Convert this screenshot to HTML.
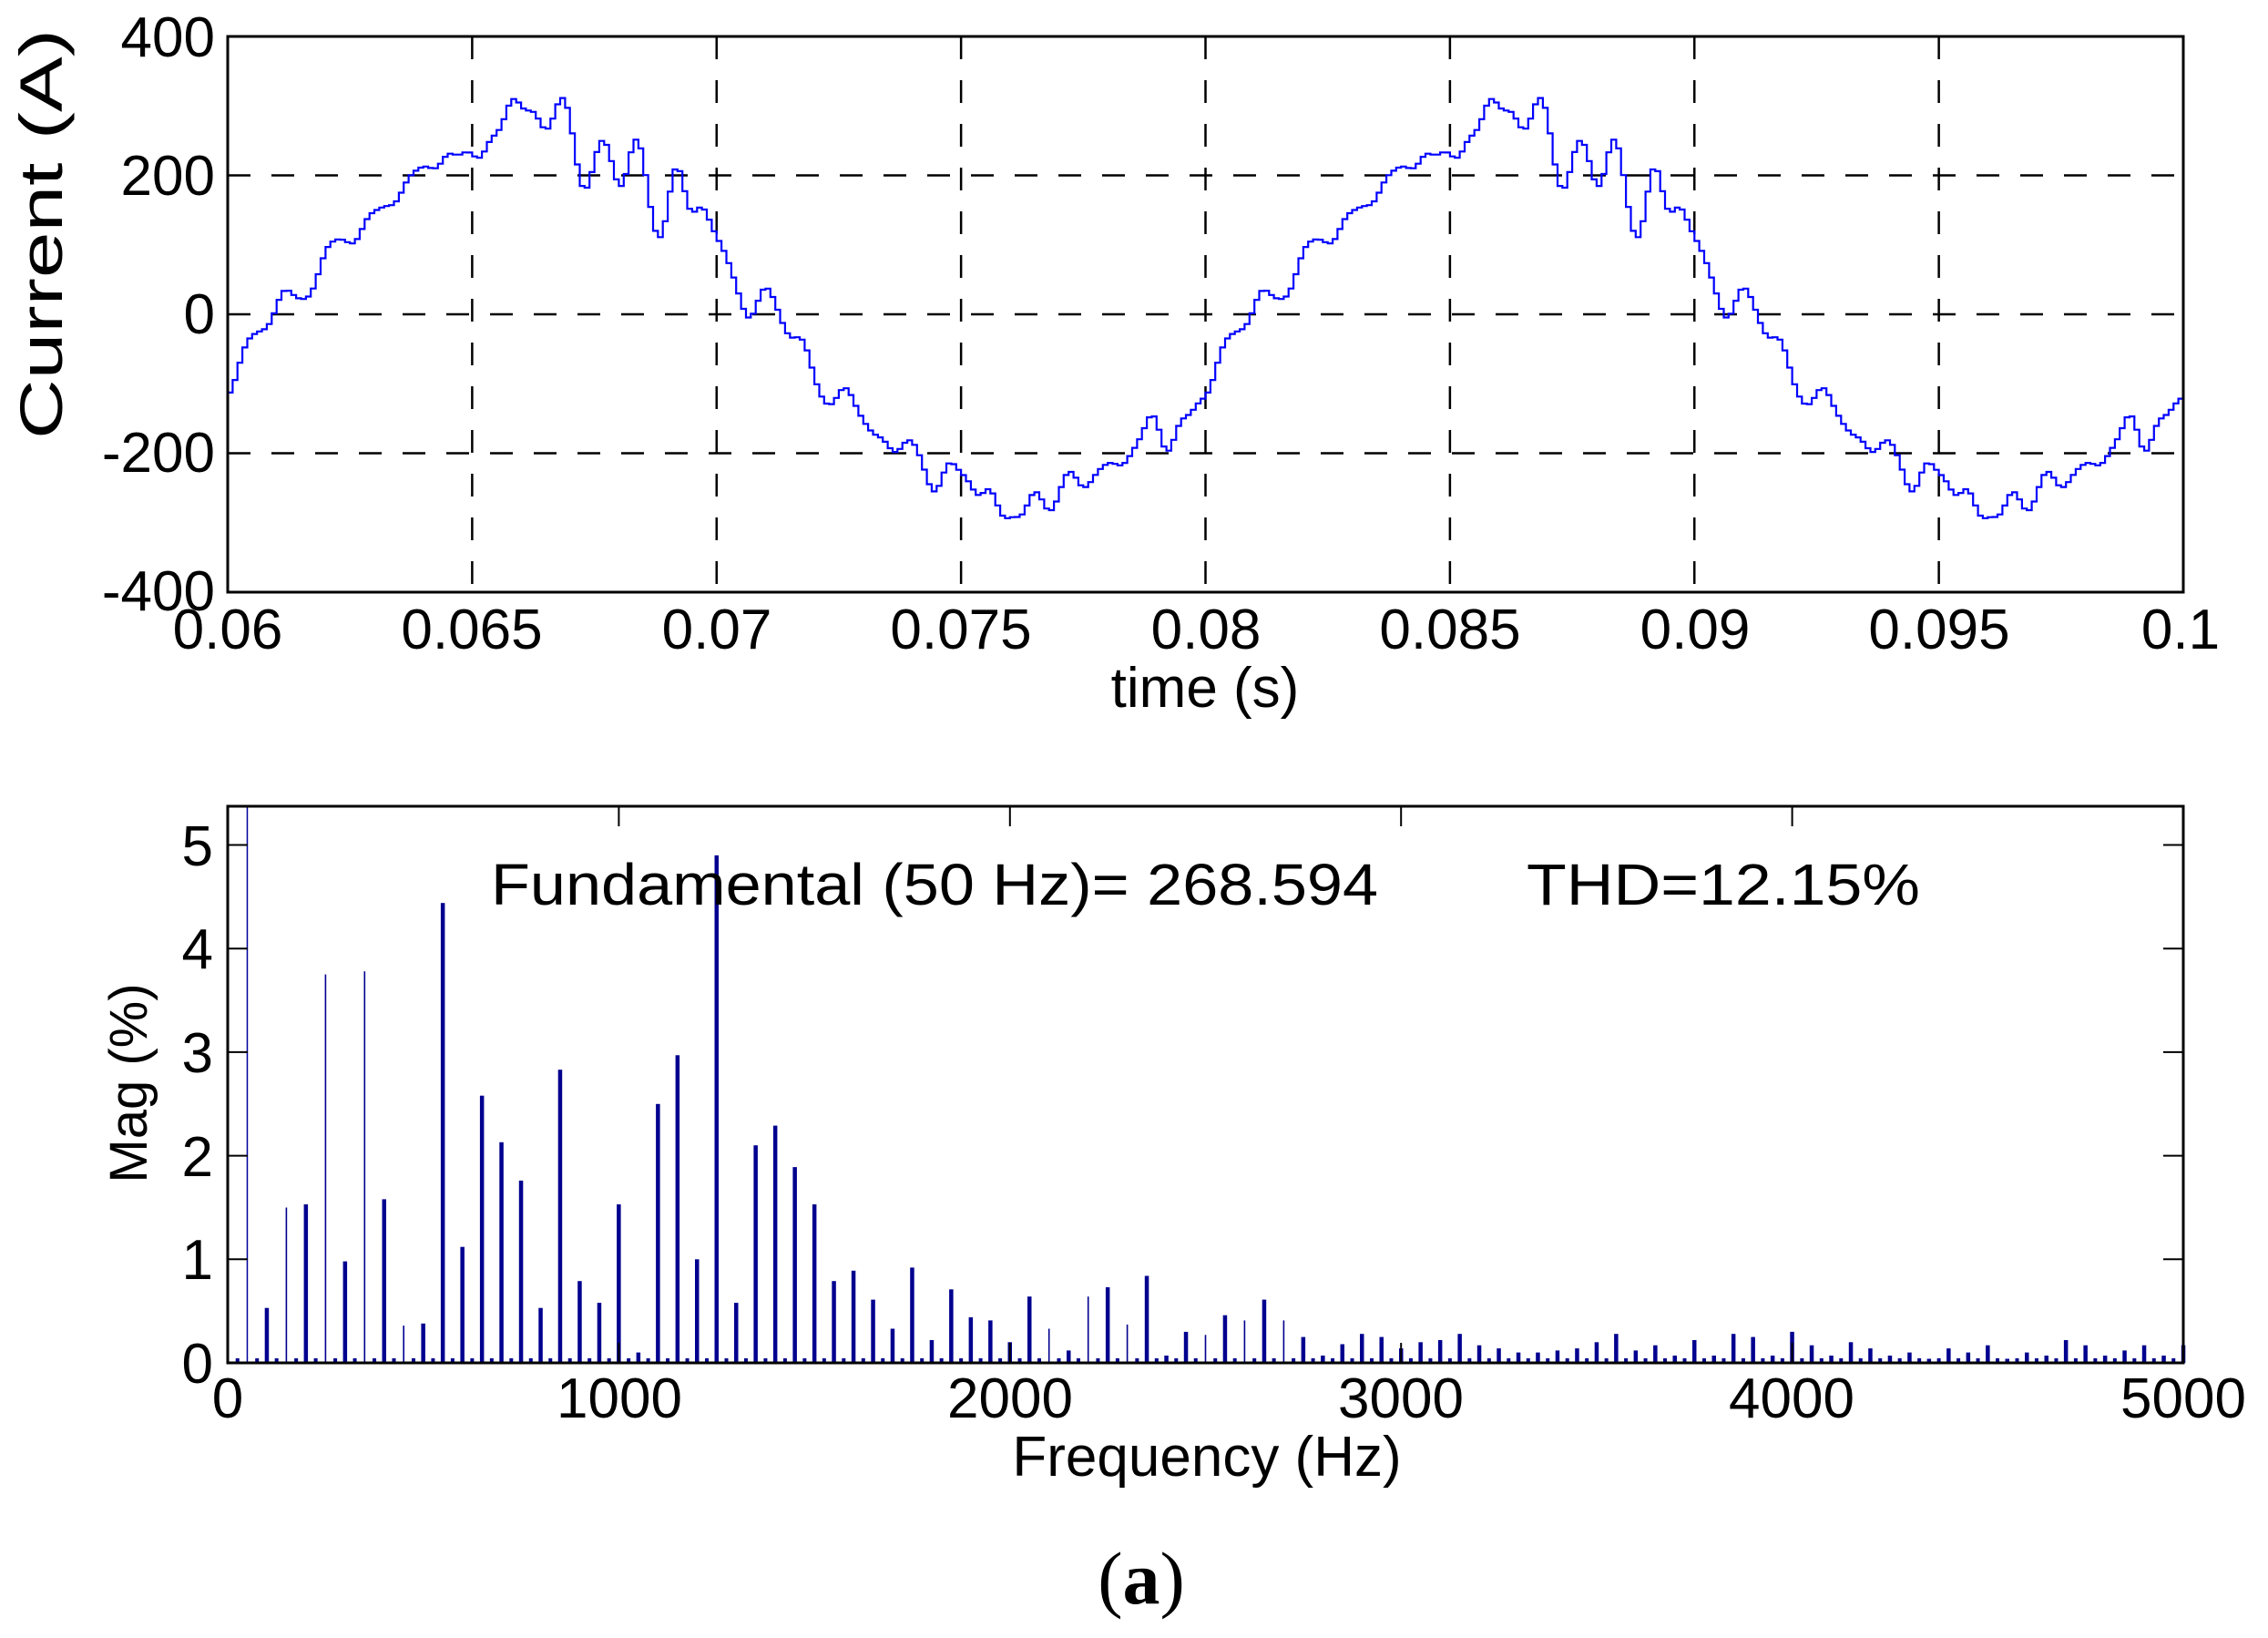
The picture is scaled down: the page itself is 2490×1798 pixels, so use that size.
<!DOCTYPE html>
<html><head><meta charset="utf-8"><style>
html,body{margin:0;padding:0;background:#fff;}
svg{display:block;}
text{font-family:"Liberation Sans",Arial,sans-serif;fill:#000;}
</style></head><body>
<svg id="s" width="2490" height="1798" viewBox="0 0 2490 1798" xmlns="http://www.w3.org/2000/svg">
<rect width="2490" height="1798" fill="#fff"/>
<g id="top"></g>
<g id="bot"></g>
<!-- top labels -->
<g font-size="62" text-anchor="middle">
<text x="250" y="712">0.06</text>
<text x="518" y="712">0.065</text>
<text x="787" y="712">0.07</text>
<text x="1055" y="712">0.075</text>
<text x="1324" y="712">0.08</text>
<text x="1592" y="712">0.085</text>
<text x="1861" y="712">0.09</text>
<text x="2129" y="712">0.095</text>
<text x="2394" y="712">0.1</text>
</g>
<g font-size="62" text-anchor="end">
<text x="236" y="62">400</text>
<text x="236" y="214">200</text>
<text x="236" y="366">0</text>
<text x="236" y="518">-200</text>
<text x="236" y="670">-400</text>
</g>
<text x="1323" y="776" font-size="62" text-anchor="middle">time (s)</text>
<text transform="translate(68,257) rotate(-90)" font-size="66" text-anchor="middle" textLength="450" lengthAdjust="spacingAndGlyphs">Current (A)</text>
<!-- bottom labels -->
<g font-size="62" text-anchor="middle">
<text x="250" y="1556">0</text>
<text x="680" y="1556">1000</text>
<text x="1109" y="1556">2000</text>
<text x="1538" y="1556">3000</text>
<text x="1967" y="1556">4000</text>
<text x="2397" y="1556">5000</text>
</g>
<g font-size="62" text-anchor="end">
<text x="234" y="1518">0</text>
<text x="234" y="1404">1</text>
<text x="234" y="1291">2</text>
<text x="234" y="1177">3</text>
<text x="234" y="1063">4</text>
<text x="234" y="950">5</text>
</g>
<text x="1325" y="1620" font-size="62" text-anchor="middle">Frequency (Hz)</text>
<text transform="translate(161,1189) rotate(-90)" font-size="58" text-anchor="middle">Mag (%)</text>
<text x="539" y="993" font-size="64" textLength="974" lengthAdjust="spacingAndGlyphs">Fundamental (50 Hz)= 268.594</text>
<text x="1676" y="993" font-size="64" textLength="432" lengthAdjust="spacingAndGlyphs">THD=12.15%</text>
<text x="1253" y="1760" font-size="82" text-anchor="middle" style="font-family:'Liberation Serif',serif;">(<tspan font-weight="bold">a</tspan>)</text>
</svg>
<script>
(function(){
var NS="http://www.w3.org/2000/svg";
function el(p,n,a){var e=document.createElementNS(NS,n);for(var k in a)e.setAttribute(k,a[k]);p.appendChild(e);return e;}
var top=document.getElementById("top"), bot=document.getElementById("bot");
var L=250,R=2397,T=40,B=650;
function X(t){return L+(t-0.06)/0.04*(R-L);}
function Y(i){return 345-i*(152.5/200);}
var k;
for(k=1;k<8;k++){var x=X(0.06+k*0.005);el(top,"line",{x1:x,y1:T,x2:x,y2:B,stroke:"#000","stroke-width":2.5,"stroke-dasharray":"25,23"});}
[200,0,-200].forEach(function(v){var y=Y(v);el(top,"line",{x1:L,y1:y,x2:R,y2:y,stroke:"#000","stroke-width":2.5,"stroke-dasharray":"25,23"});});
var H=[[1,268.6,0],[3,2.6,1.1],[4,4.1,2.0],[5,10.1,0.4],[7,10.2,2.6],[8,4.2,1.3],[11,11.9,3.5],[12,2.9,0.9],[13,6.9,4.4],[14,5.7,1.7],[15,4.7,5.2],[17,7.6,2.2],[18,2.1,0.2],[20,4.1,3.0],[22,6.7,1.5],[23,8.0,5.6],[24,2.6,2.8],[25,13.2,0.7],[26,1.6,4.0],[27,5.6,3.3],[28,6.1,1.0],[29,5.0,4.7],[30,4.0,2.4],[31,2.1,0.5],[32,2.4,3.9],[33,1.6,5.9],[35,2.4,1.2],[37,1.7,2.9],[41,1.9,4.1],[43,1.6,0.3],[47,2.2,2.0]];
var t0=0.0611,d="",dt=1e-4,prev=null;
for(var n=0;n<=400;n++){
 var t=0.06+n*dt,v=0;
 for(var j=0;j<H.length;j++){var h=H[j];v+=h[1]*Math.sin(2*Math.PI*50*h[0]*(t-t0)+(j==0?0:h[2]));}
 var x=X(t),y=Y(v);
 if(n==0)d="M"+x.toFixed(1)+" "+y.toFixed(1);
 else d+=" L"+x.toFixed(1)+" "+prev.toFixed(1)+" L"+x.toFixed(1)+" "+y.toFixed(1);
 prev=y;
}
el(top,"path",{d:d,fill:"none",stroke:"#0000ff","stroke-width":2.2});
el(top,"rect",{x:L,y:T,width:R-L,height:B-T,fill:"none",stroke:"#000","stroke-width":3});
var BT=885,BB=1496;
function FX(f){return 250+f*(2397-250)/5000;}
function VY(v){return BB-v*113.7;}
var thin={150:1,250:1,350:1,450:1,2100:1,2200:1,2300:1,2500:1,2600:1,2700:1};
var vals=[0.53,1.5,1.53,3.75,0.98,3.78,1.58,0.36,0.38,4.44,1.12,2.58,2.13,1.76,0.53,2.83,0.79,0.58,1.53,0.1,2.5,2.97,1.0,4.9,0.58,2.1,2.29,1.89,1.53,0.79,0.89,0.61,0.33,0.92,0.22,0.71,0.44,0.41,0.2,0.64,0.33,0.12,0.64,0.73,0.37,0.84,0.07,0.3,0.27,0.46,0.41,0.61,0.41,0.25,0.07,0.18,0.28,0.25,0.14,0.2,0.22,0.28,0.17,0.14,0.1,0.1,0.12,0.14,0.2,0.28,0.12,0.17,0.07,0.22,0.07,0.28,0.25,0.07,0.3,0.17,0.07,0.2,0.14,0.07,0.1,0.04,0.14,0.1,0.17,0.04,0.1,0.07,0.22,0.17,0.07,0.12,0.17,0.07,0.17];
el(bot,"line",{x1:FX(50),y1:BB,x2:FX(50),y2:BT,stroke:"#0000a0","stroke-width":1.5});
for(k=0;k<vals.length;k++){
 var f=100+k*50,x=FX(f),w=thin[f]?1.6:4.5;
 el(bot,"rect",{x:(x-w/2).toFixed(1),y:VY(vals[k]).toFixed(1),width:w,height:(vals[k]*113.7).toFixed(1),fill:"#00008f"});
}
for(k=0;k<200;k++){var f=25+k*25;if(f%50==0)continue;var x=FX(f);el(bot,"rect",{x:x-2,y:BB-5,width:4,height:5,fill:"#00008f"});}
for(k=0;k<=5;k++){var x=FX(k*1000);el(bot,"line",{x1:x,y1:BT,x2:x,y2:BT+22,stroke:"#000","stroke-width":2});el(bot,"line",{x1:x,y1:BB,x2:x,y2:BB-22,stroke:"#000","stroke-width":2});
 var y=VY(k);el(bot,"line",{x1:250,y1:y,x2:272,y2:y,stroke:"#000","stroke-width":2});el(bot,"line",{x1:2397,y1:y,x2:2375,y2:y,stroke:"#000","stroke-width":2});}
el(bot,"rect",{x:250,y:BT,width:2397-250,height:BB-BT,fill:"none",stroke:"#000","stroke-width":3});
})();
</script>
</body></html>
